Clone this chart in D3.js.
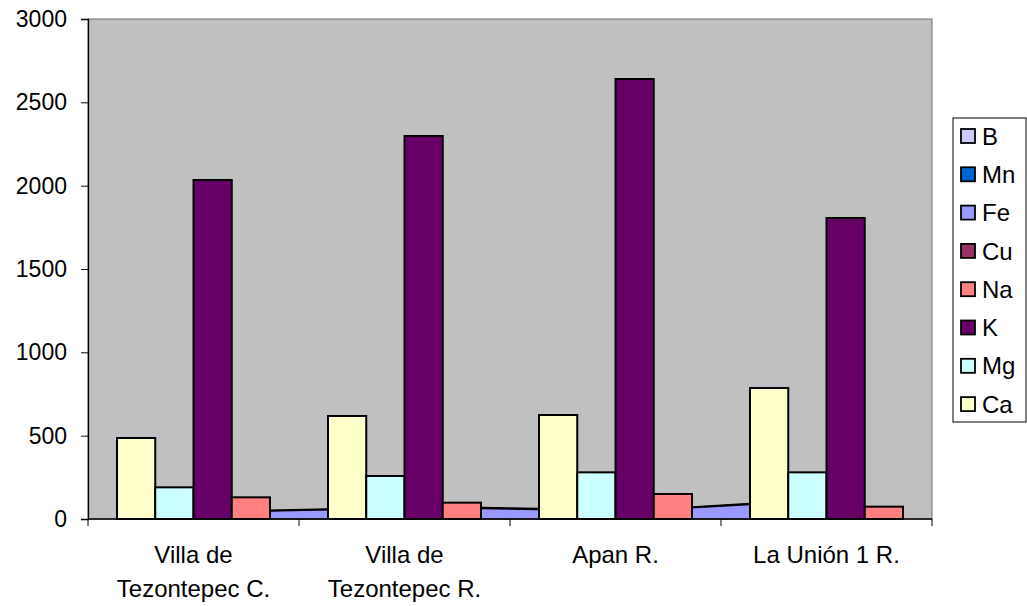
<!DOCTYPE html>
<html>
<head>
<meta charset="utf-8">
<script src="https://cdn.jsdelivr.net/npm/d3@7"></script>
<style>
  html, body { margin: 0; padding: 0; background: #ffffff; }
  svg text { font-family: "Liberation Sans", Arial, sans-serif; fill: #000; }
</style>
</head>
<body>
<svg id="chart" width="1027" height="606"></svg>
<script>
// Sampling sites (two-line labels)
const categories = [
  ["Villa de", "Tezontepec C."],
  ["Villa de", "Tezontepec R."],
  ["Apan R."],
  ["La Unión 1 R."]
];

// Element concentrations per site
const ca = [486, 618, 624, 786];
const mg = [190, 258, 280, 280];
const k  = [2034, 2298, 2640, 1806];
const na = [130, 98, 150, 74];
// Fe, read at the end of each cluster and at the start of the next one
const feEnd   = [50, 66, 70, 0];
const feStart = [0, 58, 60, 90];

const legendSeries = ["B", "Mn", "Fe", "Cu", "Na", "K", "Mg", "Ca"];
const legendColors = ["#CCCCFF", "#0066CC", "#9999FF", "#993366", "#FF8080", "#660066", "#CCFFFF", "#FFFFCC"];
const yTicks = [0, 500, 1000, 1500, 2000, 2500, 3000];

const colorOf = Object.fromEntries(legendSeries.map((s, i) => [s, legendColors[i]]));

const svg = d3.select("#chart");
const plot = { left: 88, right: 932, top: 19, bottom: 519 };

const x0 = d3.scaleBand().domain(d3.range(categories.length)).range([plot.left, plot.right]).padding(0);
const barSeries = ["Ca", "Mg", "K", "Na"];
const x1 = d3.scaleBand().domain(barSeries).range([0, x0.bandwidth()])
  .paddingInner(0).paddingOuter(0.758);
const y = d3.scaleLinear().domain([0, 3000]).range([plot.bottom, plot.top]);

// Plot area background
svg.append("rect")
  .attr("x", plot.left).attr("y", plot.top)
  .attr("width", plot.right - plot.left).attr("height", plot.bottom - plot.top)
  .attr("fill", "#C0C0C0").attr("stroke", "#707070").attr("stroke-width", 1);

// Fe between clusters: sloped from the end of one cluster to the start of the next
const feArea = d3.area().x(d => d[0]).y0(y(0)).y1(d => d[1]);
const feLine = d3.line().x(d => d[0]).y(d => d[1]);
for (let i = 0; i < categories.length - 1; i++) {
  const xa = x0(i) + x1("Na") + x1.bandwidth();
  const xb = x0(i + 1) + x1("Ca");
  const pts = [[xa, y(feEnd[i])], [xb, y(feStart[i + 1])]];
  svg.append("path").attr("d", feArea(pts)).attr("fill", colorOf["Fe"])
    .attr("stroke", "#000").attr("stroke-width", 1.2);
  svg.append("path").attr("d", feLine(pts)).attr("fill", "none")
    .attr("stroke", "#000").attr("stroke-width", 2.4);
}

// Main bars
const values = { Ca: ca, Mg: mg, K: k, Na: na };
const rows = [];
categories.forEach((c, i) => barSeries.forEach(s => rows.push({ i, s, v: values[s][i] })));
svg.append("g").selectAll("rect").data(rows).join("rect")
  .attr("x", d => x0(d.i) + x1(d.s))
  .attr("y", d => y(d.v))
  .attr("width", x1.bandwidth())
  .attr("height", d => y(0) - y(d.v))
  .attr("fill", d => colorOf[d.s])
  .attr("stroke", "#000").attr("stroke-width", 2);

// Y axis
const yAxis = svg.append("g").attr("transform", `translate(${plot.left},0)`)
  .call(d3.axisLeft(y).tickValues(yTicks).tickSize(7).tickPadding(14).tickFormat(d3.format("d")));
yAxis.select(".domain").attr("stroke", "#000").attr("stroke-width", 1.3);
yAxis.selectAll(".tick line").attr("stroke", "#000");
yAxis.selectAll(".tick text").style("font-size", "23px").attr("fill", "#000")
  .style("font-family", "'Liberation Sans', Arial, sans-serif");

// X axis with ticks at category boundaries
svg.append("line").attr("x1", plot.left).attr("x2", plot.right)
  .attr("y1", y(0)).attr("y2", y(0)).attr("stroke", "#000").attr("stroke-width", 1.3);
const bounds = d3.range(categories.length + 1).map(i => i < categories.length ? x0(i) : plot.right);
svg.append("g").selectAll("line").data(bounds).join("line")
  .attr("x1", d => d).attr("x2", d => d)
  .attr("y1", y(0)).attr("y2", y(0) + 7)
  .attr("stroke", "#000").attr("stroke-width", 1);

// Category labels
const labels = svg.append("g").selectAll("text").data(categories).join("text")
  .attr("text-anchor", "middle")
  .attr("x", (d, i) => x0(i) + x0.bandwidth() / 2)
  .attr("y", 563)
  .style("font-size", "24px");
labels.selectAll("tspan").data(d => d).join("tspan")
  .attr("x", function () { return d3.select(this.parentNode).attr("x"); })
  .attr("dy", (d, j) => j === 0 ? 0 : 34)
  .text(d => d);

// Legend
const lg = svg.append("g");
lg.append("rect").attr("x", 953).attr("y", 118).attr("width", 73).attr("height", 304)
  .attr("fill", "#fff").attr("stroke", "#000").attr("stroke-width", 1);
const items = lg.selectAll("g.item").data(legendSeries).join("g")
  .attr("class", "item")
  .attr("transform", (d, i) => `translate(0,${136 + i * 38.3})`);
items.append("rect").attr("x", 961).attr("y", -7).attr("width", 14).attr("height", 14)
  .attr("fill", d => colorOf[d]).attr("stroke", "#000").attr("stroke-width", 1.8);
items.append("text").attr("x", 982).attr("y", 0).attr("dy", "0.36em")
  .style("font-size", "24px").text(d => d);
</script>
</body>
</html>
